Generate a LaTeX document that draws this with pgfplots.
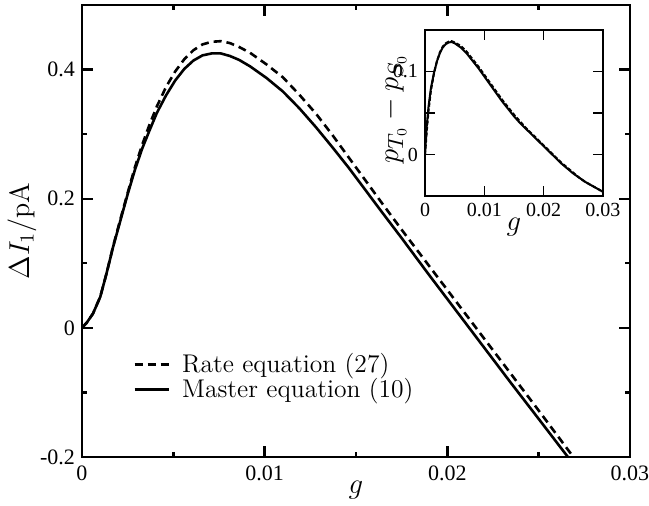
\documentclass[border=0pt]{standalone}
\usepackage{fontspec}
\usepackage{pgfplots}
\pgfplotsset{compat=1.18}
\newfontfamily\tms{Liberation Serif}

\pgfplotstableread{
g       dI
0       0
0.00026 0.008
0.0006  0.022
0.001   0.048
0.00135 0.085
0.0017  0.125
0.0021  0.166
0.0025  0.207
0.0029  0.245
0.0033  0.278
0.0037  0.306
0.0041  0.333
0.0046  0.360
0.0051  0.383
0.0056  0.401
0.0061  0.414
0.0066  0.422
0.0071  0.425
0.0076  0.425
0.0081  0.421
0.0086  0.415
0.0092  0.405
0.0101  0.387
0.011   0.366
0.0119  0.340
0.0128  0.311
0.0137  0.280
0.0146  0.248
0.0155  0.214
0.0164  0.180
0.0175  0.139
0.019   0.082
0.0205  0.026
0.022   -0.030
0.0235  -0.086
0.025   -0.141
0.0266  -0.200
}\master

\pgfplotstableread{
g       dI
0       0
0.00026 0.008
0.0006  0.022
0.001   0.048
0.00135 0.085
0.0017  0.126
0.0021  0.168
0.0025  0.209
0.0029  0.249
0.0033  0.284
0.0037  0.315
0.0041  0.343
0.0046  0.373
0.0051  0.397
0.0056  0.416
0.0061  0.430
0.0066  0.439
0.0071  0.443
0.0076  0.444
0.0081  0.441
0.0086  0.435
0.0092  0.426
0.0101  0.408
0.011   0.388
0.0119  0.361
0.0128  0.332
0.0137  0.299
0.0146  0.264
0.0155  0.229
0.0164  0.194
0.0175  0.152
0.019   0.096
0.0205  0.040
0.022   -0.016
0.0235  -0.072
0.025   -0.128
0.0269  -0.200
}\rate

\pgfplotstableread{
g      p
0      0
0.0001 0.012
0.0003 0.035
0.0006 0.058
0.001  0.080
0.0015 0.098
0.002  0.112
0.0025 0.122
0.003  0.129
0.0035 0.133
0.004  0.135
0.0045 0.1355
0.005  0.134
0.006  0.129
0.007  0.122
0.008  0.113
0.009  0.104
0.010  0.094
0.011  0.084
0.012  0.074
0.013  0.064
0.014  0.055
0.015  0.046
0.016  0.038
0.017  0.031
0.018  0.024
0.019  0.017
0.020  0.010
0.021  0.003
0.022  -0.004
0.023  -0.011
0.024  -0.017
0.025  -0.023
0.026  -0.028
0.027  -0.033
0.028  -0.037
0.029  -0.041
0.030  -0.045
}\insetmaster

\pgfplotstableread{
g      p
0      0
0.0001 0.008
0.0003 0.028
0.0006 0.053
0.001  0.077
0.0015 0.097
0.002  0.112
0.0025 0.123
0.003  0.130
0.0035 0.134
0.004  0.136
0.0045 0.1365
0.005  0.135
0.006  0.131
0.007  0.124
0.008  0.115
0.009  0.106
0.010  0.096
0.011  0.086
0.012  0.076
0.013  0.066
0.014  0.057
0.015  0.048
0.016  0.040
0.017  0.032
0.018  0.025
0.019  0.018
0.020  0.011
0.021  0.004
0.022  -0.003
0.023  -0.010
0.024  -0.016
0.025  -0.022
0.026  -0.028
0.027  -0.033
0.028  -0.037
0.029  -0.041
0.030  -0.045
}\insetrate

\begin{document}
\begin{tikzpicture}
\begin{axis}[
    scale only axis,
    width=274pt, height=226pt,
    at={(0,0)}, anchor=south west,
    xmin=0, xmax=0.03, ymin=-0.2, ymax=0.5,
    scaled ticks=false,
    xtick={0,0.01,0.02,0.03}, xticklabels={0,0.01,0.02,0.03},
    minor xtick={0.005,0.015,0.025},
    ytick={-0.2,0,0.2,0.4}, yticklabels={-0.2,0,0.2,0.4},
    minor ytick={-0.1,0.1,0.3},
    xtick pos=both, ytick pos=both,
    tick align=inside,
    major tick length=5.5pt, minor tick length=2.5pt,
    axis line style={line width=1.2pt},
    every tick/.style={black, line width=1.2pt},
    /pgf/number format/assume math mode=true,
    tick label style={font=\tms\fontsize{11}{13}\selectfont},
    xticklabel style={yshift=-1pt},
    xlabel={$g$},
    ylabel={$\Delta I_1/\mathrm{pA}$},
    every axis x label/.style={at={(axis description cs:0.5,-0.073)}, anchor=center,
        font=\fontsize{14}{17}\selectfont},
    every axis y label/.style={at={(axis description cs:-0.1095,0.5)}, anchor=center, rotate=90,
        font=\fontsize{14}{17}\selectfont},
    legend style={draw=none, fill=none, inner sep=0pt, column sep=4pt, row sep=-2.5pt,
        at={(axis description cs:0.093,0.177)}, anchor=west,
        font=\fontsize{12.8}{15}\selectfont},
    legend cell align=left,
]
\addplot[black, line width=1.3pt, dash pattern=on 4pt off 2.5pt] table[x=g, y=dI] {\rate};
\addlegendentry{Rate equation (27)}
\addplot[black, line width=1.3pt] table[x=g, y=dI] {\master};
\addlegendentry{Master equation (10)}
\end{axis}

\begin{axis}[
    scale only axis,
    width=89pt, height=83pt,
    at={(171.5pt,130.5pt)}, anchor=south west,
    xmin=0, xmax=0.03, ymin=-0.05, ymax=0.15,
    scaled ticks=false,
    xtick={0,0.01,0.02,0.03}, xticklabels={0,0.01,0.02,0.03},
    ytick={0,0.1}, yticklabels={0,0.1},
    minor ytick={0.05},
    xtick pos=both, ytick pos=both,
    tick align=inside,
    major tick length=5pt, minor tick length=5pt,
    axis line style={line width=0.8pt},
    every tick/.style={black, line width=0.8pt},
    /pgf/number format/assume math mode=true,
    tick label style={font=\tms\fontsize{10}{12}\selectfont},
    xlabel={$g$},
    ylabel={$p_{T_0}-p_{S_0}$},
    every axis x label/.style={at={(axis description cs:0.5,-0.185)}, anchor=center,
        font=\fontsize{14}{17}\selectfont},
    every axis y label/.style={at={(axis description cs:-0.175,0.524)}, anchor=center, rotate=90,
        font=\fontsize{15}{18}\selectfont},
]
\addplot[black, line width=1pt] table[x=g, y=p] {\insetmaster};
\addplot[black, line width=1pt, dash pattern=on 2pt off 1pt] table[x=g, y=p] {\insetrate};
\end{axis}
\pgfresetboundingbox
\path (-41pt,-24.5pt) rectangle (283.5pt,228.5pt);
\end{tikzpicture}
\end{document}
